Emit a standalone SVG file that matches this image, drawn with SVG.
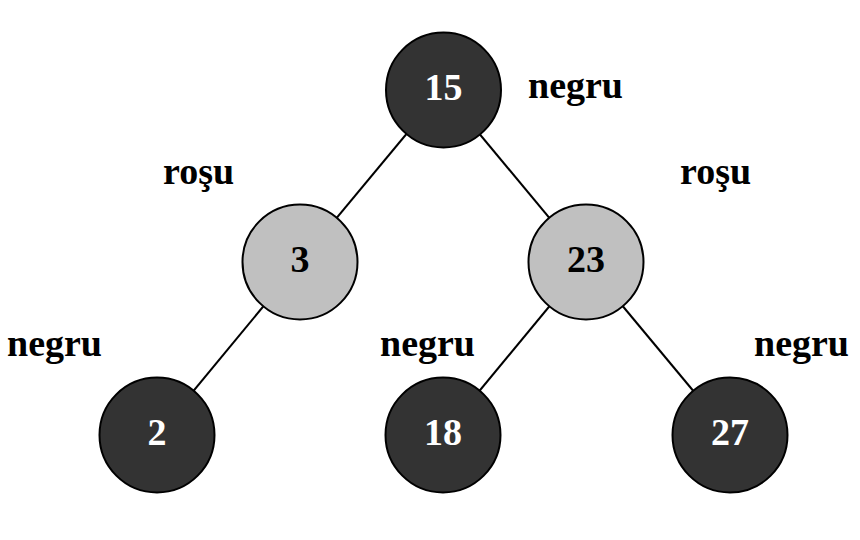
<svg xmlns="http://www.w3.org/2000/svg" width="860" height="540" viewBox="0 0 860 540">
<style>
.edge{stroke:#000;stroke-width:2;fill:none}
.n circle{stroke:#000;stroke-width:2}
.dark circle{fill:#333333}
.light circle{fill:#c0c0c0}
.n text{font-family:"Liberation Serif","Times New Roman",serif;font-weight:bold;font-size:38px;text-anchor:middle}
.dark text{fill:#fff}
.light text{fill:#000}
.lbl{font-family:"Liberation Serif","Times New Roman",serif;font-weight:bold;font-size:38px;fill:#000}
</style>
<rect width="860" height="540" fill="#fff"/>
<g id="connectors">
<line class="edge" x1="443" y1="90" x2="300" y2="262"/>
<line class="edge" x1="443" y1="90" x2="586" y2="262"/>
<line class="edge" x1="300" y1="262" x2="157" y2="435"/>
<line class="edge" x1="586" y1="262" x2="443" y2="435"/>
<line class="edge" x1="586" y1="262" x2="730" y2="435"/>
</g>
<g id="node15" class="n dark"><circle cx="443.5" cy="90" r="57.5"/><text x="443.5" y="100">15</text></g>
<g id="node3" class="n light"><circle cx="300" cy="262" r="57.5"/><text x="300" y="272">3</text></g>
<g id="node23" class="n light"><circle cx="586" cy="262" r="57.5"/><text x="586" y="272">23</text></g>
<g id="node2" class="n dark"><circle cx="157" cy="435" r="57.5"/><text x="157" y="445">2</text></g>
<g id="node18" class="n dark"><circle cx="443" cy="435" r="57.5"/><text x="443" y="445">18</text></g>
<g id="node27" class="n dark"><circle cx="730" cy="435" r="57.5"/><text x="730" y="445">27</text></g>
<g id="labels">
<text class="lbl" x="528" y="98">negru</text>
<text class="lbl" x="163" y="184">roşu</text>
<text class="lbl" x="680" y="184">roşu</text>
<text class="lbl" x="7" y="356">negru</text>
<text class="lbl" x="380" y="356">negru</text>
<text class="lbl" x="754" y="356">negru</text>
</g>
</svg>
